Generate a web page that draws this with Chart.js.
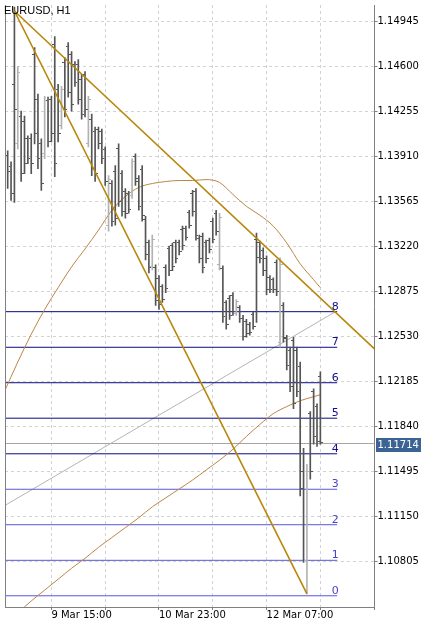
<!DOCTYPE html>
<html><head><meta charset="utf-8">
<script src="https://cdn.jsdelivr.net/npm/chart.js@4.4.1/dist/chart.umd.min.js"></script>
<style>html,body{margin:0;padding:0;background:#fff}canvas{display:block}</style>
</head><body>
<canvas id="c" width="423" height="625" style="width:423px;height:625px"></canvas>
<script>
const symbolTitle = 'EURUSD, H1';
const firstBarIndex = -13; // hours relative to 9 Mar 15:00
const open = [1.13916,1.13832,1.14464,1.14007,1.14220,1.14175,1.14045,1.14045,1.14692,1.14349,1.14007,1.13931,1.14342,
  1.14349,1.14768,1.14426,1.14144,1.14631,1.14753,1.14692,1.14616,1.14616,1.14502,1.14540,1.14007,1.14197,1.14098,1.14114,1.14098,1.13962,
  1.13383,1.13703,1.13794,1.13969,1.13779,1.13642,1.13627,1.13612,1.13908,1.13741,1.13809,1.13429,1.13247,1.13064,1.13056,1.12973,
  1.12912,1.13056,1.13201,1.13224,1.13247,1.13254,1.13353,1.13361,1.13482,1.13627,1.13642,1.13285,1.13300,1.13247,1.13269,1.13414,
  1.13475,1.13079,1.13049,1.12790,1.12821,1.12843,1.12707,1.12752,1.12669,1.12646,1.12623,1.12699,1.13277,1.13247,1.13186,1.13125,
  1.12980,1.12965,1.13094,1.12486,1.12767,1.12516,1.12425,1.12501,1.12425,1.12296,1.11497,1.10813,1.11938,1.12106,1.11992,1.12220];
const high = [1.13954,1.13870,1.15057,1.14600,1.14258,1.14220,1.14068,1.14083,1.14745,1.14388,1.14045,1.14372,1.14365,
  1.14372,1.14829,1.14464,1.14448,1.14669,1.14783,1.14715,1.14638,1.14654,1.14540,1.14562,1.14372,1.14235,1.14136,1.14136,1.14121,1.13984,
  1.13764,1.13726,1.13840,1.14007,1.13802,1.13665,1.13642,1.13893,1.13931,1.13764,1.13840,1.13452,1.13269,1.13307,1.13079,1.12996,
  1.12927,1.13079,1.13224,1.13247,1.13269,1.13269,1.13376,1.13376,1.13498,1.13650,1.13665,1.13307,1.13323,1.13269,1.13285,1.13437,
  1.13498,1.13475,1.13072,1.12805,1.12843,1.12866,1.12813,1.12767,1.12691,1.12661,1.12638,1.12714,1.13323,1.13262,1.13209,1.13148,
  1.12996,1.12980,1.13117,1.13133,1.12790,1.12539,1.12448,1.12524,1.12448,1.12334,1.11672,1.11550,1.11954,1.12128,1.12014,1.12258];
const low = [1.13665,1.13574,1.13558,1.13969,1.13718,1.13779,1.13855,1.13779,1.14007,1.13817,1.13650,1.13893,1.13984,
  1.14022,1.13756,1.14022,1.14121,1.14213,1.14365,1.14258,1.14448,1.14311,1.14197,1.14213,1.13984,1.13764,1.13718,1.13969,1.13855,1.13688,
  1.13338,1.13376,1.13383,1.13528,1.13452,1.13437,1.13475,1.13589,1.13688,1.13498,1.13414,1.13117,1.13018,1.13041,1.12767,1.12737,
  1.12790,1.12866,1.12996,1.13034,1.13094,1.13155,1.13193,1.13269,1.13361,1.13452,1.13269,1.13094,1.13018,1.13094,1.13171,1.13247,
  1.13307,1.13041,1.12638,1.12585,1.12661,1.12691,1.12691,1.12638,1.12501,1.12524,1.12539,1.12585,1.12638,1.13094,1.12996,1.12851,
  1.12866,1.12866,1.12843,1.12448,1.12486,1.12273,1.12106,1.11976,1.12068,1.11307,1.10797,1.10555,1.11436,1.11703,1.11687,1.11703];
const close = [1.13794,1.13627,1.14273,1.14555,1.13779,1.13855,1.13893,1.13855,1.14083,1.13893,1.13703,1.14342,1.14022,
  1.14083,1.13855,1.14083,1.14426,1.14273,1.14403,1.14311,1.14479,1.14349,1.14235,1.14273,1.14349,1.13817,1.13779,1.14007,1.13893,1.13718,
  1.13733,1.13414,1.13437,1.13566,1.13490,1.13475,1.13505,1.13870,1.13718,1.13528,1.13460,1.13155,1.13056,1.13277,1.12805,1.12775,
  1.12813,1.12897,1.13034,1.13064,1.13125,1.13178,1.13224,1.13292,1.13383,1.13490,1.13307,1.13125,1.13056,1.13125,1.13193,1.13277,
  1.13338,1.13444,1.12684,1.12623,1.12691,1.12722,1.12798,1.12669,1.12532,1.12554,1.12562,1.12608,1.13133,1.13125,1.13034,1.12889,
  1.12889,1.12889,1.12874,1.13079,1.12524,1.12311,1.12144,1.12014,1.12106,1.11360,1.10813,1.11497,1.11497,1.11763,1.11725,1.11714];

const maIndex = [-14,-10,-6,-2,2,6,10,14,18,22,26,30,34,38,42,46,50,54,58,62,66,70,74,78,80];
const maFast = [1.12106,1.12334,1.12547,1.12737,1.12904,1.13064,1.13201,1.13345,1.13498,1.13604,1.13673,1.13703,1.13718,
  1.13726,1.13726,1.13733,1.13711,1.13619,1.13528,1.13460,1.13376,1.13247,1.13087,1.12965,1.12904];
const maSlow = [null,1.10410,1.10501,1.10585,1.10668,1.10752,1.10828,1.10912,1.10988,1.11064,1.11140,1.11223,1.11292,
  1.11360,1.11429,1.11505,1.11581,1.11665,1.11763,1.11855,1.11938,1.11992,1.12037,1.12068,1.12083];

const levels = [1.10541,1.10813,1.11086,1.11358,1.11630,1.11903,1.12175,1.12447,1.12720];
const levelLabels = ['0','1','2','3','4','5','6','7','8'];
const levelFrom = -14, levelTo = 85;
const steepTrendX = [-11, 76], steepTrendY = [1.15026, 1.10555];
const shallowTrendX = [-11, 100], shallowTrendY = [1.15026, 1.12340];
const diagX = [-14, 84.5], diagY = [1.11231, 1.12720];
const currentPrice = 1.11714;

const yTicks = [1.14945,1.14600,1.14255,1.13910,1.13565,1.13220,1.12875,1.12530,1.12185,1.11840,1.11495,1.11150,1.10805];
const xTickIndex = [0,16,32,48,64,80,96];
const xTickLabels = ['9 Mar 15:00','','10 Mar 23:00','','12 Mar 07:00','',''];
const yMin = 1.10455, yMax = 1.15072, xMin = -13.8, xMax = 96.1;

const UP = '#b2b2b2', DOWN = '#555555';
function tickImg(color, left){
  const c = document.createElement('canvas'); c.width = 5; c.height = 1;
  const g = c.getContext('2d'); g.fillStyle = color;
  g.fillRect(left ? 0 : 3, 0, 2, 1); return c;
}
const imgs = {oU: tickImg(UP,true), oD: tickImg(DOWN,true), cU: tickImg(UP,false), cD: tickImg(DOWN,false)};
const isUp = k => close[k] > open[k];
const barX = k => firstBarIndex + k;

const datasets = [];
datasets.push({type:'line', order:0, data: steepTrendX.map((x,k)=>({x, y:steepTrendY[k]})), borderColor:'#b8860b', borderWidth:1.6, pointRadius:0});
datasets.push({type:'line', order:0, data: shallowTrendX.map((x,k)=>({x, y:shallowTrendY[k]})), borderColor:'#b8860b', borderWidth:1.6, pointRadius:0});
datasets.push({type:'line', order:1, showLine:false, data: open.map((v,k)=>({x:barX(k), y:v})), pointRadius:1,
  pointStyle: ctx => isUp(ctx.dataIndex) ? imgs.oU : imgs.oD});
datasets.push({type:'line', order:1, showLine:false, data: close.map((v,k)=>({x:barX(k), y:v})), pointRadius:1,
  pointStyle: ctx => isUp(ctx.dataIndex) ? imgs.cU : imgs.cD});
datasets.push({type:'bar', order:1, data: low.map((v,k)=>({x:barX(k), y:[v, high[k]]})), barThickness:1, borderWidth:0,
  backgroundColor: ctx => isUp(ctx.dataIndex) ? UP : DOWN});
datasets.push({type:'line', order:2, data: maIndex.map((x,k)=>({x, y:maFast[k]})), borderColor:'#bd8545', borderWidth:1, pointRadius:0, cubicInterpolationMode:'monotone'});
datasets.push({type:'line', order:2, data: maIndex.map((x,k)=>({x, y:maSlow[k]})), borderColor:'#bd8545', borderWidth:1, pointRadius:0, cubicInterpolationMode:'monotone', spanGaps:true});
levels.forEach((lv,k)=>{
  datasets.push({type:'line', order:3, data:[{x:levelFrom,y:lv},{x:levelTo,y:lv}], borderColor: k>=4 ? '#0a0a82' : '#5858d8', borderWidth:1, pointRadius:0});
});
datasets.push({type:'line', order:3, data: diagX.map((x,k)=>({x, y:diagY[k]})), borderColor:'#b4b4b4', borderWidth:1, pointRadius:0});

const FONT = {family:'DejaVu Sans', size:10};
const extras = {
  id:'extras',
  beforeDatasetsDraw(chart){
    const {ctx, chartArea:a, scales:{y}} = chart;
    const py = Math.round(y.getPixelForValue(currentPrice)) + 0.5;
    ctx.save(); ctx.strokeStyle = '#a6a6a6'; ctx.lineWidth = 1;
    ctx.beginPath(); ctx.moveTo(a.left, py); ctx.lineTo(a.right, py); ctx.stroke(); ctx.restore();
  },
  afterDatasetsDraw(chart){
    const {ctx, scales:{x, y}} = chart;
    ctx.save(); ctx.font = '11px "DejaVu Sans"'; ctx.textAlign = 'center'; ctx.textBaseline = 'alphabetic';
    levels.forEach((lv,k)=>{
      ctx.fillStyle = k>=4 ? '#10108a' : '#4444cc';
      ctx.fillText(levelLabels[k], x.getPixelForValue(levelTo) - 2, y.getPixelForValue(lv) - 2);
    });
    ctx.restore();
  },
  afterDraw(chart){
    const {ctx, chartArea:a, scales:{y}} = chart;
    ctx.save();
    ctx.strokeStyle = '#808080'; ctx.lineWidth = 1;
    ctx.beginPath(); ctx.moveTo(Math.floor(a.left)+0.5, a.top); ctx.lineTo(Math.floor(a.left)+0.5, a.bottom); ctx.stroke();
    ctx.fillStyle = '#000'; ctx.font = '11px "Liberation Sans", Arial, sans-serif';
    ctx.textBaseline = 'top'; ctx.textAlign = 'left';
    ctx.fillText(symbolTitle, 4, 5);
    const py = Math.round(y.getPixelForValue(currentPrice));
    ctx.fillStyle = '#3b6394';
    ctx.fillRect(a.right + 1.5, py - 5, 45, 14);
    ctx.fillStyle = '#ffffff'; ctx.font = '10px "DejaVu Sans"'; ctx.textBaseline = 'middle';
    ctx.fillText(currentPrice.toFixed(5), a.right + 3, py + 2);
    ctx.restore();
  }
};

new Chart(document.getElementById('c'), {
  type:'line',
  data:{datasets},
  options:{
    responsive:false, animation:false, devicePixelRatio:1, events:[],
    layout:{padding:{left:2.5, top:0, right:0, bottom:0}},
    plugins:{legend:{display:false}, tooltip:{enabled:false}},
    scales:{
      x:{type:'linear', position:'bottom', min:xMin, max:xMax, offset:false,
        grid:{offset:false, color:'#d2d2d2', lineWidth:1, tickLength:3, tickColor:'#808080', tickBorderDash:[]},
        border:{display:true, color:'#808080', dash:[3,3]},
        ticks:{autoSkip:false, maxRotation:0, minRotation:0, align:'start', padding:-1, color:'#000', font:FONT,
          callback:(v,i)=> xTickLabels[i]},
        afterBuildTicks: s => { s.ticks = xTickIndex.map(v=>({value:v})); },
        afterFit: s => { s.height = 18; s.paddingLeft = 0; s.paddingRight = 0; }
      },
      y:{type:'linear', position:'right', min:yMin, max:yMax, beginAtZero:false,
        grid:{color:'#d2d2d2', lineWidth:1, tickLength:3, tickColor:'#808080', tickBorderDash:[]},
        border:{display:true, color:'#808080', dash:[3,3]},
        ticks:{autoSkip:false, padding:0, color:'#000', font:FONT, callback:v=> Number(v).toFixed(5)},
        afterBuildTicks: s => { s.ticks = yTicks.map(v=>({value:v})); },
        afterFit: s => { s.width = 48.5; s.paddingTop = 0; s.paddingBottom = 0; }
      }
    }
  },
  plugins:[extras]
});
</script>
</body></html>
